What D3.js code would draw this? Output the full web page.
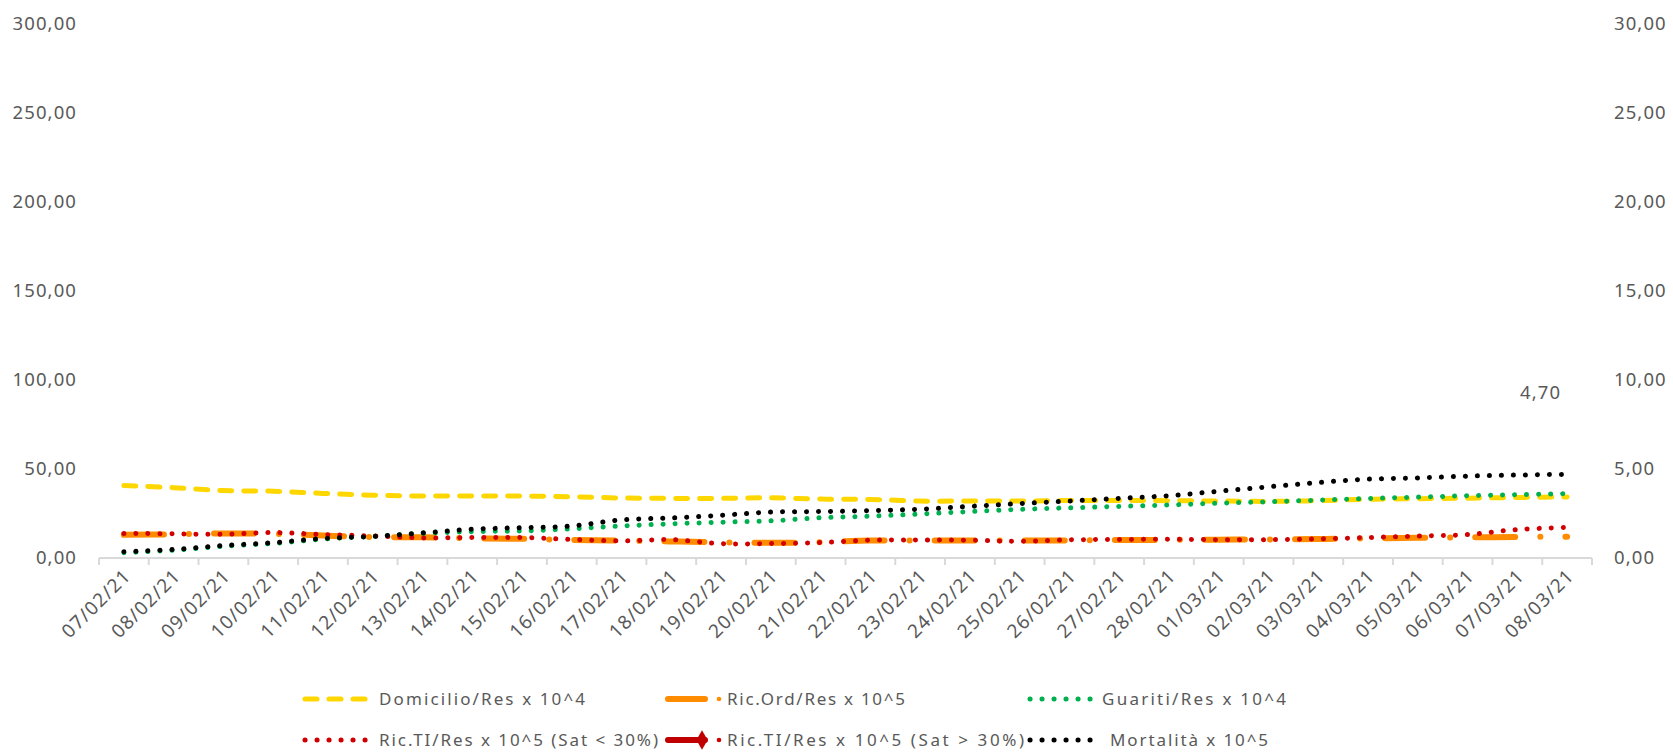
<!DOCTYPE html>
<html><head><meta charset="utf-8">
<script src="https://cdn.jsdelivr.net/npm/d3@7"></script>
<style>
body{margin:0;background:#fff}
text{font-family:"Noto Sans","Open Sans",sans-serif;fill:#595959}
</style>
</head><body><svg id="c" width="1673" height="754"></svg>
<script>
const categories = ["07/02/21","08/02/21","09/02/21","10/02/21","11/02/21","12/02/21","13/02/21","14/02/21","15/02/21","16/02/21","17/02/21","18/02/21","19/02/21","20/02/21","21/02/21","22/02/21","23/02/21","24/02/21","25/02/21","26/02/21","27/02/21","28/02/21","01/03/21","02/03/21","03/03/21","04/03/21","05/03/21","06/03/21","07/03/21","08/03/21"];
const domicilio = [40.7,39.5,37.9,37.5,36.3,35.3,34.8,34.8,34.8,34.4,33.7,33.5,33.5,33.8,33.1,32.9,32.0,32.0,32.0,32.3,32.3,32.2,32.0,31.8,32.2,33.0,33.3,33.6,34.0,34.3];
const ricOrd = [13.0,13.3,13.8,13.6,12.6,11.8,11.6,11.1,10.8,10.1,9.8,9.3,8.8,8.5,8.9,9.8,9.8,9.8,9.8,9.9,10.1,10.2,10.3,10.4,10.7,11.0,11.4,11.6,11.8,12.0];
const guariti = [3.0,4.4,6.6,8.2,10.6,12.2,13.8,14.8,15.2,16.4,18.0,19.2,20.1,20.9,22.6,23.5,24.7,26.1,27.3,28.2,29.0,29.8,30.8,31.6,32.5,33.4,34.2,35.0,35.6,36.2];
const ricTIlow = [13.8,13.6,13.3,14.3,13.2,12.4,11.3,11.5,11.5,10.4,9.6,10.3,8.1,8.1,8.7,10.0,10.1,10.0,9.4,10.2,10.4,10.5,10.3,10.3,10.7,11.5,12.3,13.2,16.0,17.2];
const ricTIhigh = [null,null,null,null,null,null,null,null,null,null,null,null,null,null,null,null,null,null,null,null,null,null,null,null,null,null,null,null,null,null];
const mortalita = [0.35,0.48,0.70,0.86,1.10,1.21,1.41,1.62,1.70,1.80,2.14,2.25,2.40,2.58,2.61,2.66,2.74,2.90,3.06,3.20,3.35,3.50,3.75,4.00,4.24,4.43,4.50,4.60,4.66,4.70];
const leftTicks = [0,50,100,150,200,250,300];
const rightTicks = [0,5,10,15,20,25,30];
const legendLabels = ["Domicilio/Res x 10^4","Ric.Ord/Res x 10^5","Guariti/Res x 10^4","Ric.TI/Res x 10^5 (Sat < 30%)","Ric.TI/Res x 10^5 (Sat > 30%)","Mortalità x 10^5"];

const svg = d3.select("#c");
svg.append("rect").attr("width",1673).attr("height",754).attr("fill","#fff");

const x = d3.scaleBand().domain(categories).range([99,1592]).padding(0);
const cx = d => x(d) + x.bandwidth()/2;
const yL = d3.scaleLinear().domain([0,300]).range([558,24]);
const yR = d3.scaleLinear().domain([0,30]).range([558,24]);
const it = d3.formatLocale({decimal:",",thousands:".",grouping:[3],currency:["€",""]});
const fmt = it.format(".2f");

// left axis
const gl = svg.append("g").attr("transform","translate(77,0)")
  .call(d3.axisLeft(yL).tickValues(leftTicks).tickFormat(fmt).tickSize(0).tickPadding(0));
gl.select(".domain").remove();
gl.selectAll("text").attr("font-size",18.5).attr("letter-spacing",1.1).attr("fill","#595959").attr("font-family","Noto Sans");
// right axis
const gr = svg.append("g").attr("transform","translate(1614,0)")
  .call(d3.axisRight(yR).tickValues(rightTicks).tickFormat(fmt).tickSize(0).tickPadding(0));
gr.select(".domain").remove();
gr.selectAll("text").attr("font-size",18.5).attr("letter-spacing",1.1).attr("fill","#595959").attr("font-family","Noto Sans");

// x axis line and ticks
const y0 = yL(0);
svg.append("line").attr("x1",x.range()[0]).attr("x2",x.range()[1]).attr("y1",y0).attr("y2",y0)
  .attr("stroke","#d9d9d9").attr("stroke-width",2);
const bounds = categories.map(d => x(d)).concat([x.range()[1]]);
svg.append("g").selectAll("line").data(bounds).join("line")
  .attr("x1",d=>d).attr("x2",d=>d).attr("y1",y0).attr("y2",y0+7)
  .attr("stroke","#d9d9d9").attr("stroke-width",2);
svg.append("g").selectAll("text").data(categories).join("text")
  .attr("transform",d=>`translate(${cx(d)+8},${y0+19}) rotate(-45)`)
  .attr("text-anchor","end").attr("font-size",19).attr("letter-spacing",1.1)
  .text(d=>d);

// series
const curve = d3.curveCatmullRom.alpha(0.5);
function drawLine(vals, scale, style){
  const line = d3.line().defined(v=>v!=null).x((v,i)=>cx(categories[i])).y(v=>scale(v)).curve(curve);
  const p = svg.append("path").datum(vals).attr("d",line).attr("fill","none")
    .attr("stroke",style.color).attr("stroke-width",style.w)
    .attr("stroke-linecap","round").attr("stroke-linejoin","round");
  if(style.dash) p.attr("stroke-dasharray",style.dash);
  return p;
}
const styles = [
  {color:"#FFD700", w:5, dash:"12 12"},
  {color:"#FF8C00", w:6, dash:"40 25 0.1 25"},
  {color:"#00B050", w:5, dash:"0.1 11.9"},
  {color:"#D00000", w:5, dash:"0.1 11.9"},
  {color:"#C00000", w:6, dash:null},
  {color:"#000000", w:5, dash:"0.1 11.9"}
];
drawLine(domicilio, yL, styles[0]);
drawLine(ricOrd, yL, styles[1]);
drawLine(guariti, yL, styles[2]);
drawLine(ricTIlow, yL, styles[3]);
drawLine(ricTIhigh, yL, styles[4]);
drawLine(mortalita, yR, styles[5]);

// data label for last mortality point
const lastI = categories.length-1;
svg.append("text").attr("x",cx(categories[lastI])-6).attr("y",yR(mortalita[lastI])-75)
  .attr("text-anchor","end").attr("font-size",18.5).attr("letter-spacing",1.1)
  .text(fmt(mortalita[lastI]));

// legend
const legSym = [[302,699],[665,699],[1027,699],[302,740],[665,740],[1027,740]];
const legText = [[379,206],[727,178],[1102,184],[379,279],[727,297],[1110,158]];
legendLabels.forEach((lab,k)=>{
  const [lx,ly] = legSym[k];
  const g = svg.append("g");
  const st = styles[k];
  if(k===1 || k===4){
    g.append("line").attr("x1",lx+3).attr("x2",lx+40).attr("y1",ly).attr("y2",ly)
      .attr("stroke",st.color).attr("stroke-width",st.w).attr("stroke-linecap","round");
    if(k===4){
      g.append("path").attr("d",d3.symbol(d3.symbolDiamond,110)()).attr("transform",`translate(${lx+37},${ly})`)
        .attr("fill",st.color);
    }
    g.append("circle").attr("cx",lx+54).attr("cy",ly).attr("r",2.3).attr("fill",k===1?"#FF8C00":"#D00000");
  } else {
    g.append("line").attr("x1",lx+3).attr("x2",lx+64).attr("y1",ly).attr("y2",ly)
      .attr("stroke",st.color).attr("stroke-width",st.w).attr("stroke-linecap","round")
      .attr("stroke-dasharray",st.dash);
  }
  g.append("text").attr("x",legText[k][0]).attr("y",ly).attr("dy","0.35em")
    .attr("font-size",17).attr("textLength",legText[k][1]).attr("lengthAdjust","spacing").text(lab);
});
</script></body></html>
